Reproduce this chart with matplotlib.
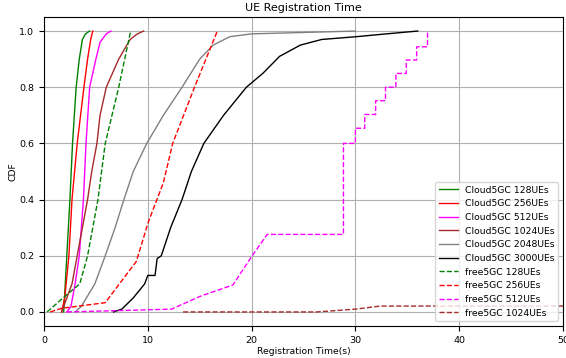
import matplotlib
matplotlib.use("Agg")
import matplotlib.pyplot as plt

# Cloud5GC curves (x = registration time, y = CDF)
c128_x = [1.9, 2.2, 2.5, 2.75, 3.1, 3.4, 3.7, 4.0, 4.4]
c128_y = [0.0, 0.2, 0.4, 0.6, 0.8, 0.9, 0.97, 0.99, 1.0]

c256_x = [1.7, 2.0, 2.4, 2.7, 3.2, 3.85, 4.2, 4.5, 4.7]
c256_y = [0.0, 0.05, 0.2, 0.4, 0.6, 0.8, 0.9, 0.97, 1.0]

c512_x = [2.2, 2.6, 3.0, 3.4, 3.8, 4.05, 4.4, 5.0, 5.4, 6.0, 6.45]
c512_y = [0.0, 0.02, 0.1, 0.2, 0.4, 0.6, 0.8, 0.9, 0.96, 0.99, 1.0]

c1024_x = [1.7, 2.2, 2.7, 3.2, 3.7, 4.2, 4.6, 5.1, 5.4, 6.0, 6.6, 7.2, 8.3, 9.0, 9.6]
c1024_y = [0.0, 0.05, 0.1, 0.2, 0.3, 0.4, 0.5, 0.6, 0.7, 0.8, 0.85, 0.9, 0.97, 0.99, 1.0]

c2048_x = [3.0, 3.6, 4.9, 5.9, 6.85, 7.7, 8.6, 9.9, 11.5, 13.3, 15.0, 16.3, 17.9, 20.0, 30.0]
c2048_y = [0.0, 0.02, 0.1, 0.2, 0.3, 0.4, 0.5, 0.6, 0.7, 0.8, 0.9, 0.95, 0.98, 0.99, 1.0]

c3000_x = [6.7, 7.5, 8.6, 9.7, 10.0, 10.7, 10.9, 11.3, 12.2, 13.3, 14.2, 15.4, 17.3,
           19.5, 21.1, 22.7, 24.7, 26.75, 30.1, 33.0, 36.0]
c3000_y = [0.0, 0.01, 0.05, 0.1, 0.13, 0.13, 0.19, 0.2, 0.3, 0.4, 0.5, 0.6, 0.7,
           0.8, 0.85, 0.91, 0.95, 0.97, 0.98, 0.99, 1.0]

# free5GC curves
f128_x = [0.3, 2.0, 3.45, 4.2, 5.2, 5.9, 7.2, 8.35]
f128_y = [0.0, 0.055, 0.1, 0.2, 0.4, 0.6, 0.8, 1.0]

f256_x = [0.6, 1.7, 5.9, 8.9, 10.05, 11.5, 12.4, 14.5, 16.7]
f256_y = [0.0, 0.013, 0.033, 0.18, 0.32, 0.46, 0.6, 0.8, 1.0]

f512_x = [2.2, 6.36, 12.3, 15.0, 18.2, 20.0, 21.5, 28.85, 28.85, 30.0, 30.0, 30.9, 30.9,
          31.95, 31.95, 32.9, 32.9, 33.9, 33.9, 34.9, 34.9, 35.9, 35.9, 36.95, 36.95]
f512_y = [0.0, 0.004, 0.01, 0.055, 0.096, 0.197, 0.276, 0.276, 0.6, 0.6, 0.654, 0.654, 0.703,
          0.703, 0.752, 0.752, 0.8, 0.8, 0.849, 0.849, 0.897, 0.897, 0.944, 0.944, 1.0]

f1024_x = [13.4, 26.3, 30.0, 32.4, 50.0]
f1024_y = [0.0, 0.0, 0.01, 0.021, 0.021]

series = [
    (c128_x, c128_y, "green", "-", "Cloud5GC 128UEs"),
    (c256_x, c256_y, "red", "-", "Cloud5GC 256UEs"),
    (c512_x, c512_y, "magenta", "-", "Cloud5GC 512UEs"),
    (c1024_x, c1024_y, "brown", "-", "Cloud5GC 1024UEs"),
    (c2048_x, c2048_y, "gray", "-", "Cloud5GC 2048UEs"),
    (c3000_x, c3000_y, "black", "-", "Cloud5GC 3000UEs"),
    (f128_x, f128_y, "green", "--", "free5GC 128UEs"),
    (f256_x, f256_y, "red", "--", "free5GC 256UEs"),
    (f512_x, f512_y, "magenta", "--", "free5GC 512UEs"),
    (f1024_x, f1024_y, "brown", "--", "free5GC 1024UEs"),
]

fig = plt.figure(figsize=(5.66, 3.58), dpi=100)
ax = fig.add_axes([0.0777, 0.0894, 0.917, 0.8631])
for x, y, c, ls, lab in series:
    ax.plot(x, y, color=c, linestyle=ls, linewidth=1.0, label=lab)

ax.set_xlim(0, 50)
ax.set_ylim(-0.05, 1.05)
ax.set_xticks([0, 10, 20, 30, 40, 50])
ax.set_yticks([0.0, 0.2, 0.4, 0.6, 0.8, 1.0])
ax.tick_params(labelsize=6.8)
ax.grid(True, color="#b0b0b0", linewidth=0.8)
ax.set_title("UE Registration Time", fontsize=8, pad=4)
ax.set_xlabel("Registration Time(s)", fontsize=6.7, labelpad=1.5)
ax.set_ylabel("CDF", fontsize=6.7, labelpad=1)
ax.legend(loc="lower right", fontsize=6.7)
fig.savefig("out.png", dpi=100)
